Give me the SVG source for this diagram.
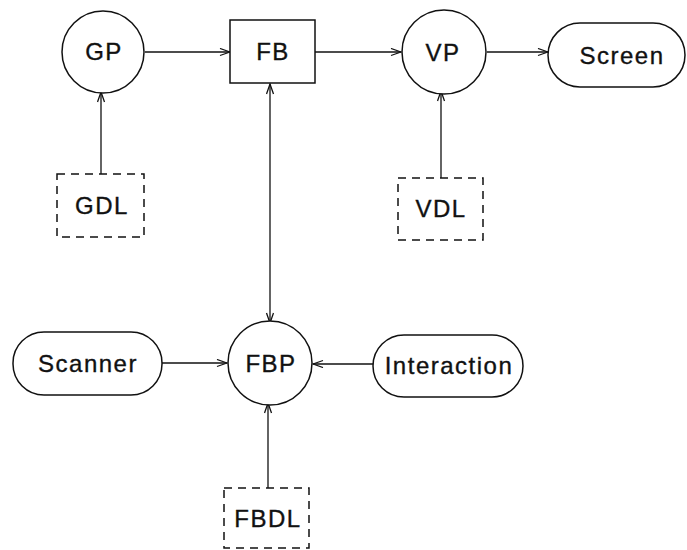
<svg xmlns="http://www.w3.org/2000/svg" width="687" height="550" viewBox="0 0 687 550">
<style>
.s{fill:#fff;stroke:#111;stroke-width:1.5}
.d{fill:#fff;stroke:#111;stroke-width:1.5;stroke-dasharray:8,6}
.t{font-family:"Liberation Sans",Arial,sans-serif;font-size:24px;letter-spacing:1.5px;fill:#111;stroke:#111;stroke-width:0.35;text-anchor:middle}
.c{stroke:#111;stroke-width:1.3;fill:none}
</style>
<defs>
<marker id="a" markerWidth="12" markerHeight="10" refX="11" refY="4" orient="auto-start-reverse" markerUnits="userSpaceOnUse">
<path d="M1,0.5 L11,4 L1,7.5" fill="none" stroke="#111" stroke-width="1.3"/>
</marker>
</defs>
<rect width="687" height="550" fill="#fff"/>
<g id="connectors">
<line class="c" x1="145" y1="52" x2="230" y2="52" marker-end="url(#a)"/>
<line class="c" x1="315" y1="52" x2="401" y2="52" marker-end="url(#a)"/>
<line class="c" x1="487" y1="52" x2="548" y2="52" marker-end="url(#a)"/>
<line class="c" x1="101" y1="174" x2="101" y2="92" marker-end="url(#a)"/>
<line class="c" x1="441" y1="178" x2="441" y2="91" marker-end="url(#a)"/>
<line class="c" x1="270" y1="84" x2="270" y2="323" marker-start="url(#a)" marker-end="url(#a)"/>
<line class="c" x1="162" y1="363" x2="227" y2="363" marker-end="url(#a)"/>
<line class="c" x1="373" y1="364" x2="313" y2="364" marker-end="url(#a)"/>
<line class="c" x1="268" y1="488" x2="268" y2="403" marker-end="url(#a)"/>
</g>
<g id="GP"><circle class="s" cx="103" cy="52" r="41"/><text class="t" x="104" y="60">GP</text></g>
<g id="FB"><rect class="s" x="230" y="20" width="85" height="63"/><text class="t" x="273" y="60">FB</text></g>
<g id="VP"><circle class="s" cx="444" cy="52" r="42"/><text class="t" x="443" y="61">VP</text></g>
<g id="Screen"><rect class="s" x="548" y="23" width="137" height="64" rx="32"/><text class="t" x="622" y="64">Screen</text></g>
<g id="GDL"><rect class="d" x="57" y="174" width="87" height="63"/><text class="t" x="102" y="214">GDL</text></g>
<g id="VDL"><rect class="d" x="398" y="178" width="85" height="62"/><text class="t" x="441" y="217">VDL</text></g>
<g id="Scanner"><rect class="s" x="13" y="332" width="149" height="63" rx="31"/><text class="t" x="88" y="372">Scanner</text></g>
<g id="FBP"><circle class="s" cx="270" cy="363" r="42"/><text class="t" x="271" y="372">FBP</text></g>
<g id="Interaction"><rect class="s" x="373" y="335" width="150" height="62" rx="31"/><text class="t" x="449" y="374">Interaction</text></g>
<g id="FBDL"><rect class="d" x="224" y="488" width="85" height="60"/><text class="t" x="268" y="527">FBDL</text></g>
</svg>
